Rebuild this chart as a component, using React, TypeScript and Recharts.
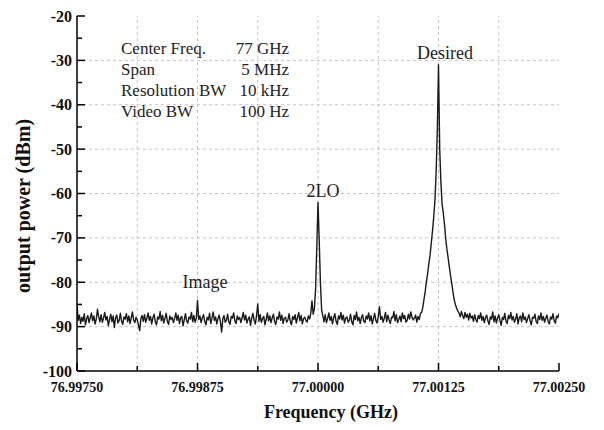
import { LineChart, Line, XAxis, YAxis, ReferenceLine } from "recharts";

// sweep: 77 GHz centre, 5 MHz span, 401 points (offsets in kHz)
const sweepStartKHz = -2500;
const sweepStepKHz = 12.5;

// measured power (dBm), one value per sweep point
const powerSeg1 = [
  -85.2, -88.6, -87.4, -89.3, -87.9, -88.8, -87.1, -89.6, -88.2, -87.5, -89.1, -88.0, -86.9, -88.7, -87.6, -89.4, -88.3, -86.1, -87.8, -88.9,
  -87.3, -89.0, -88.1, -86.8, -88.5, -87.7, -89.8, -88.4, -87.2, -88.9, -87.6, -90.2, -88.0, -87.4, -89.2, -88.6, -87.0, -88.8, -89.5, -87.8,
  -88.3, -87.1, -88.9, -87.6, -89.3, -88.0, -86.7, -88.5, -89.1, -87.9, -88.4, -89.7, -90.9, -88.2, -87.5, -88.8, -87.3, -89.0, -88.1, -86.9,
  -88.6, -87.7, -89.4, -88.0, -87.2, -88.9, -89.6, -87.8, -88.3, -86.6, -88.7, -87.5, -89.2, -88.1, -87.0, -88.8, -89.5, -87.6, -88.4, -87.9,
  -89.1, -88.2, -86.9, -88.6, -87.4, -89.3, -88.0, -87.7, -89.8, -88.5, -87.1, -88.7, -89.2, -87.8, -88.3, -86.8, -88.9, -87.5, -89.0, -88.2,
];
const powerSeg2 = [
  -84.1, -88.4, -87.6, -89.1, -88.0, -87.3, -88.8, -89.6, -87.9, -88.5, -87.0, -89.3, -88.1, -86.7, -88.6, -87.8, -89.4, -88.2, -87.4, -88.9,
  -91.2, -88.3, -87.5, -89.0, -88.6, -87.2, -88.9, -89.5, -87.7, -88.1, -86.9, -88.7, -89.3, -87.6, -88.4, -87.9, -89.1, -88.0, -86.8, -88.5,
  -87.4, -89.2, -88.3, -87.8, -89.7, -88.1, -87.0, -88.6, -89.4, -87.5, -84.9, -88.8, -87.3, -89.0, -88.2, -87.7, -89.6, -88.4, -86.9, -88.7,
  -87.6, -89.1, -88.0, -87.2, -88.9, -89.5, -87.8, -88.3, -86.7, -88.6, -87.4, -89.3, -88.1, -87.9, -89.0, -88.5, -87.1, -88.8, -89.6, -87.7,
  -88.4, -87.3, -89.2, -88.0, -86.8, -88.7, -87.5, -89.4, -88.2, -87.9, -88.6, -89.0, -87.6, -88.3, -87.0, -84.2, -87.2, -86.0, -81.5, -72.0,
];
const powerSeg3 = [
  -62.0, -70.5, -80.0, -86.2, -87.5, -88.9, -87.3, -89.1, -88.2, -86.9, -88.6, -87.7, -89.4, -88.0, -87.1, -88.8, -89.5, -87.6, -88.3, -86.8,
  -88.5, -87.4, -89.2, -88.1, -87.8, -89.0, -88.6, -87.2, -88.9, -89.6, -87.5, -88.4, -86.7, -88.7, -87.9, -89.3, -88.0, -87.3, -88.8, -89.1,
  -87.6, -88.3, -86.9, -88.7, -87.5, -89.4, -88.2, -87.0, -88.6, -89.2, -87.8, -85.5, -88.4, -87.7, -89.0, -88.1, -86.8, -88.9, -87.4, -88.5,
  -89.3, -87.9, -88.0, -86.6, -88.7, -87.3, -89.1, -88.4, -87.6, -88.9, -86.9, -88.2, -87.5, -89.0, -88.6, -87.2, -88.3, -86.7, -87.9, -88.5,
  -88.1, -87.4, -89.0, -87.7, -88.4, -87.0, -86.8, -85.6, -83.8, -82.0, -79.8, -78.0, -75.8, -73.9, -71.2, -68.5, -65.4, -61.8, -55.5, -46.0,
];
const powerSeg4 = [
  -31.0, -50.0, -57.5, -62.5, -64.5, -67.0, -70.2, -72.6, -74.5, -76.6, -78.5, -80.3, -82.2, -83.9, -85.0, -85.8, -86.5, -86.9, -87.8, -86.6,
  -87.5, -88.2, -86.8, -87.9, -87.2, -88.5, -87.0, -88.1, -87.6, -88.8, -87.3, -88.4, -89.0, -87.5, -88.2, -86.9, -88.6, -87.7, -89.1, -88.0,
  -87.4, -88.7, -89.5, -87.8, -88.3, -86.7, -88.9, -87.6, -89.2, -88.1, -87.3, -88.6, -89.7, -87.9, -88.4, -87.0, -88.8, -89.3, -87.5, -88.2,
  -86.8, -88.5, -87.7, -89.0, -88.3, -87.1, -89.4, -88.0, -87.6, -88.9, -86.9, -88.4, -87.8, -89.1, -88.2, -87.3, -88.7, -89.6, -87.9, -88.1,
  -87.2, -88.8, -89.3, -87.6, -88.4, -86.9, -88.6, -87.7, -89.0, -88.1, -87.4, -88.9, -89.4, -87.8, -88.3, -87.1, -88.7, -89.2, -87.6, -88.0,
  -87.0,
];

const xTicksKHz = [-2500, -1875, -1250, -625, 0, 625, 1250, 1875, 2500];
const xMajorKHz = [-2500, -1250, 0, 1250, 2500];
const xGridKHz = [-1875, -1250, -625, 0, 625, 1250, 1875];
const yTicks = [-100, -95, -90, -85, -80, -75, -70, -65, -60, -55, -50, -45, -40, -35, -30, -25, -20];
const yGrid = [-90, -80, -70, -60, -50, -40, -30];

const settingNames = ["Center Freq.", "Span", "Resolution BW", "Video BW"];
const settingValues = ["77 GHz", "5 MHz", "10 kHz", "100 Hz"];

const powerDbm = [...powerSeg1, ...powerSeg2, ...powerSeg3, ...powerSeg4];
const data = powerDbm.map((p, i) => ({ f: sweepStartKHz + i * sweepStepKHz, p }));

const serif = "'Liberation Serif', 'Times New Roman', serif";
const fmtGHz = (k: number) => (77 + k / 1e6).toFixed(5);

const BottomTick = (props: any) => {
  const { x, y, payload } = props;
  const major = xMajorKHz.includes(payload.value);
  return (
    <g>
      <line x1={x} y1={y} x2={x} y2={y - (major ? 8 : 5)} stroke="#000" strokeWidth={1.5} />
      {major && (
        <text x={x} y={y + 21} textAnchor="middle" fontFamily={serif} fontWeight="bold" fontSize={14} fill="#111">
          {fmtGHz(payload.value)}
        </text>
      )}
    </g>
  );
};

const TopTick = (props: any) => {
  const { x, y, payload } = props;
  const major = xMajorKHz.includes(payload.value);
  return <line x1={x} y1={y} x2={x} y2={y + (major ? 8 : 5)} stroke="#000" strokeWidth={1.5} />;
};

const LeftTick = (props: any) => {
  const { x, y, payload } = props;
  const major = payload.value % 10 === 0;
  return (
    <g>
      <line x1={x} y1={y} x2={x + (major ? 8 : 5)} y2={y} stroke="#000" strokeWidth={1.5} />
      {major && (
        <text x={x - 5} y={y + 5.5} textAnchor="end" fontFamily={serif} fontWeight="bold" fontSize={16} fill="#111">
          {payload.value}
        </text>
      )}
    </g>
  );
};

const RightTick = (props: any) => {
  const { x, y, payload } = props;
  const major = payload.value % 10 === 0;
  return <line x1={x} y1={y} x2={x - (major ? 8 : 5)} y2={y} stroke="#000" strokeWidth={1.5} />;
};

const axisLine = { stroke: "#000", strokeWidth: 1.5 };

export default function App() {
  return (
    <div style={{ position: "absolute", left: 0, top: 0, width: 604, height: 430, background: "#fff" }}>
      <LineChart width={604} height={430} data={data} margin={{ top: 16, right: 45, bottom: 19, left: 17 }}>
        <XAxis
          dataKey="f"
          type="number"
          domain={[-2500, 2500]}
          ticks={xTicksKHz}
          interval={0}
          height={40}
          tickSize={0}
          tickMargin={0}
          tickLine={false}
          axisLine={axisLine}
          tick={<BottomTick />}
          allowDataOverflow
        />
        <XAxis
          xAxisId="top"
          orientation="top"
          dataKey="f"
          type="number"
          domain={[-2500, 2500]}
          ticks={xTicksKHz}
          interval={0}
          height={0}
          tickSize={0}
          tickMargin={0}
          tickLine={false}
          axisLine={axisLine}
          tick={<TopTick />}
          allowDataOverflow
        />
        <YAxis
          type="number"
          domain={[-100, -20]}
          ticks={yTicks}
          interval={0}
          width={60}
          tickSize={0}
          tickMargin={0}
          tickLine={false}
          axisLine={axisLine}
          tick={<LeftTick />}
          allowDataOverflow
        />
        <YAxis
          yAxisId="right"
          orientation="right"
          type="number"
          domain={[-100, -20]}
          ticks={yTicks}
          interval={0}
          width={0}
          tickSize={0}
          tickMargin={0}
          tickLine={false}
          axisLine={axisLine}
          tick={<RightTick />}
          allowDataOverflow
        />
        {yGrid.map((v) => (
          <ReferenceLine key={"y" + v} y={v} stroke="#c4c4c4" strokeDasharray="3 3" />
        ))}
        {xGridKHz.map((v) => (
          <ReferenceLine key={"x" + v} x={v} stroke="#c4c4c4" strokeDasharray="3 3" />
        ))}
        <Line
          type="linear"
          dataKey="p"
          stroke="#1a1a1a"
          strokeWidth={1.4}
          strokeLinejoin="round"
          dot={false}
          activeDot={false}
          isAnimationActive={false}
        />
      </LineChart>
      <svg width={604} height={430} style={{ position: "absolute", left: 0, top: 0, pointerEvents: "none" }}>
        <g fontFamily={serif} fontSize={17} fill="#222">
          {settingNames.map((n, i) => (
            <text key={n} x={121} y={54 + i * 21}>
              {n}
            </text>
          ))}
          {settingValues.map((v, i) => (
            <text key={v} x={289} y={54 + i * 21} textAnchor="end">
              {v}
            </text>
          ))}
        </g>
        <g fontFamily={serif} fontSize={18} fill="#222" textAnchor="middle">
          <text x={445} y={59}>Desired</text>
          <text x={323} y={197}>2LO</text>
          <text x={205} y={288}>Image</text>
        </g>
        <text
          transform="translate(30,206) rotate(-90)"
          textAnchor="middle"
          fontFamily={serif}
          fontWeight="bold"
          fontSize={20}
          fill="#111"
        >
          output power (dBm)
        </text>
        <text x={331} y={418} textAnchor="middle" fontFamily={serif} fontWeight="bold" fontSize={18} fill="#111">
          Frequency (GHz)
        </text>
      </svg>
    </div>
  );
}
